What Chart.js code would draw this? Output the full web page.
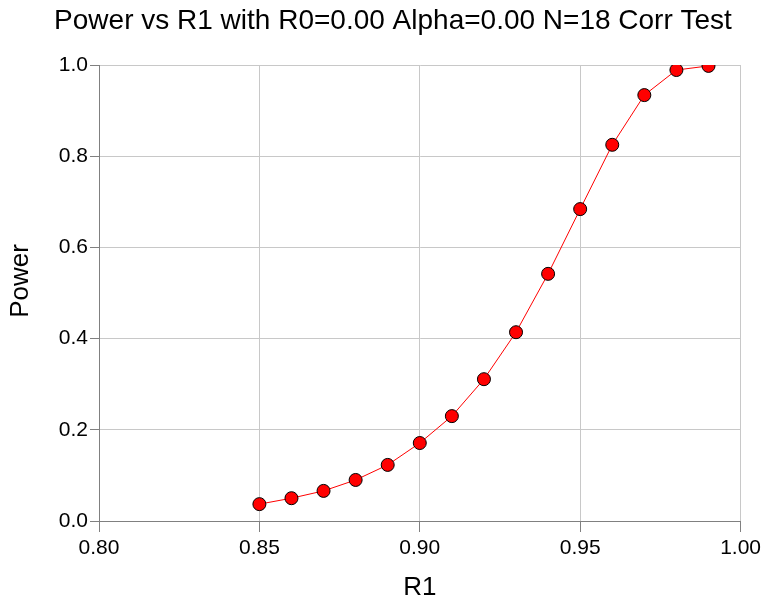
<!DOCTYPE html>
<html>
<head>
<meta charset="utf-8">
<script src="https://cdn.jsdelivr.net/npm/chart.js@4/dist/chart.umd.min.js"></script>
<style>
  html, body { margin: 0; padding: 0; background: #fff; }
  #wrap { width: 765px; height: 603px; }
</style>
</head>
<body>
<div id="wrap"><canvas id="powerChart" width="765" height="603"></canvas></div>
<script>
const chartTitle = 'Power vs R1 with R0=0.00 Alpha=0.00 N=18 Corr Test';
const xTitle = 'R1';
const yTitle = 'Power';
const r1Values = [0.85, 0.86, 0.87, 0.88, 0.89, 0.90, 0.91, 0.92, 0.93, 0.94, 0.95, 0.96, 0.97, 0.98, 0.99];
const powerValues = [0.037, 0.050, 0.066, 0.090, 0.123, 0.171, 0.230, 0.311, 0.414, 0.542, 0.684, 0.825, 0.934, 0.989, 0.998];
const xRange = [0.80, 1.00];
const yRange = [0.0, 1.0];

const fontFamily = '"Liberation Sans", Arial, sans-serif';

// main title and the y title are drawn by hand, the y one sits a bit above centre
const textPlugin = {
    id: 'extraText',
    afterDraw(chart) {
        const c = chart.ctx;
        c.save();
        c.fillStyle = '#000';
        c.textAlign = 'center';
        c.font = '28px ' + fontFamily;
        c.textBaseline = 'alphabetic';
        c.fillText(chartTitle, 393, 29);

        c.font = '26px ' + fontFamily;
        c.textBaseline = 'middle';
        c.translate(21, 281);
        c.rotate(-Math.PI / 2);
        c.fillText(yTitle, 0, 0);
        c.restore();
    }
};

document.addEventListener('DOMContentLoaded', function() {
    const ctx = document.getElementById('powerChart').getContext('2d');
    new Chart(ctx, {
        type: 'line',
        data: {
            datasets: [{
                data: r1Values.map((x, i) => ({ x: x, y: powerValues[i] })),
                borderColor: '#ff0000',
                borderWidth: 1,
                backgroundColor: '#ff0000',
                pointBackgroundColor: '#ff0000',
                pointBorderColor: '#000000',
                pointBorderWidth: 1,
                pointRadius: 6.5,
                tension: 0
            }]
        },
        options: {
            responsive: false,
            animation: false,
            layout: { padding: { top: 65, right: 24, left: 0, bottom: 0 } },
            plugins: {
                legend: { display: false },
                tooltip: { enabled: false }
            },
            scales: {
                x: {
                    type: 'linear',
                    min: xRange[0],
                    max: xRange[1],
                    afterFit: s => { s.height = 82; },
                    border: { color: '#808080', width: 1 },
                    grid: { color: '#c8c8c8', tickColor: '#808080', tickLength: 11 },
                    ticks: {
                        stepSize: 0.05,
                        padding: 4,
                        color: '#000',
                        maxRotation: 0,
                        font: { family: fontFamily, size: 21 },
                        callback: v => v.toFixed(2)
                    },
                    title: {
                        display: true,
                        text: xTitle,
                        color: '#000',
                        padding: { top: 0, bottom: 0 },
                        font: { family: fontFamily, size: 26 }
                    }
                },
                y: {
                    min: yRange[0],
                    max: yRange[1],
                    afterFit: s => { s.width = 99; },
                    border: { color: '#808080', width: 1 },
                    grid: { color: '#c8c8c8', tickColor: '#808080', tickLength: 9 },
                    ticks: {
                        stepSize: 0.2,
                        padding: 2,
                        color: '#000',
                        font: { family: fontFamily, size: 21 },
                        callback: v => v.toFixed(1)
                    }
                }
            }
        },
        plugins: [textPlugin]
    });
});
</script>
</body>
</html>
